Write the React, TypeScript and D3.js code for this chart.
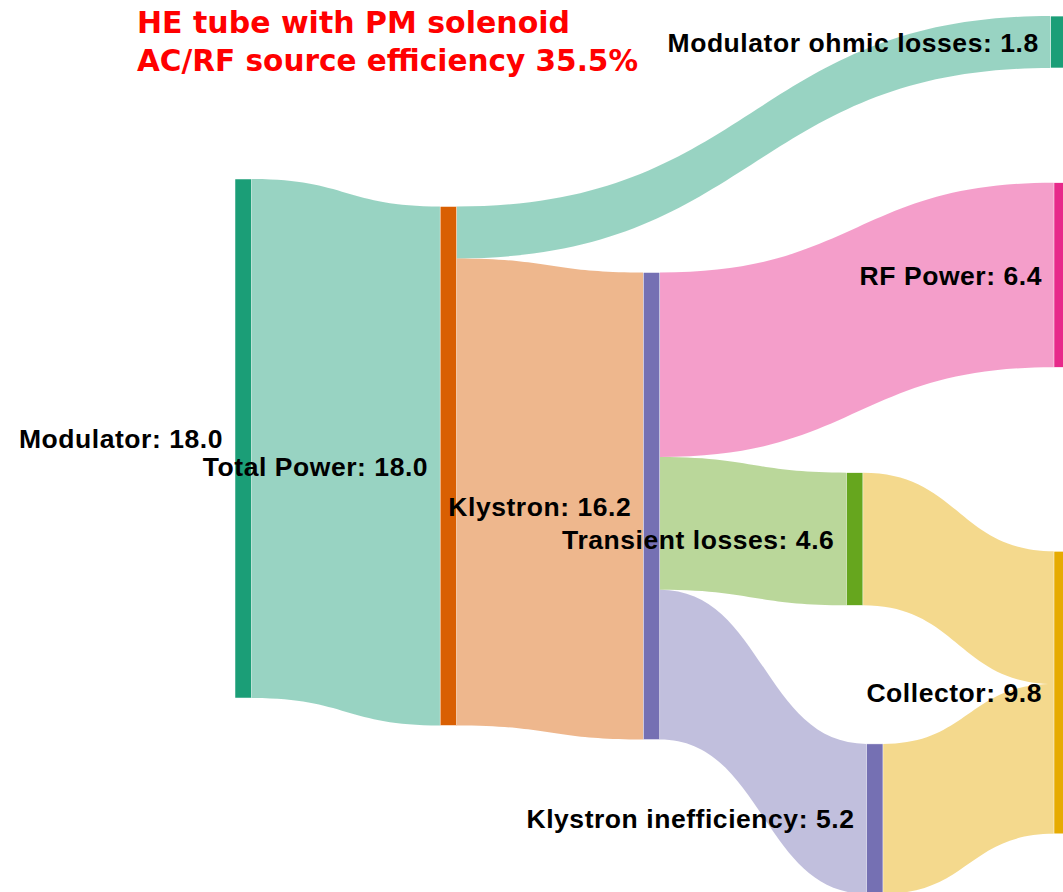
import React from "react";
import * as d3 from "d3";

// ---- Data ----
const nodeNames = [
  "Modulator",
  "Total Power",
  "Modulator ohmic losses",
  "Klystron",
  "RF Power",
  "Transient losses",
  "Klystron inefficiency",
  "Collector",
];
const nodeColors = ["#1b9e77", "#d95f02", "#1b9e77", "#7570b3", "#e7298a", "#66a61e", "#7570b3", "#e6ab02"];

const linkSources = [0, 1, 1, 3, 3, 3, 5, 6];
const linkTargets = [1, 2, 3, 4, 5, 6, 7, 7];
const linkValues = [18.0, 1.8, 16.2, 6.4, 4.6, 5.2, 4.6, 5.2];
const linkColors = ["#1b9e77", "#1b9e77", "#d95f02", "#e7298a", "#66a61e", "#7570b3", "#e6ab02", "#e6ab02"];

// node arrangement (like plotly node.x / node.y, fractions of the plot)
const nodeXFrac = [0, 0.2505, 0.996, 0.4985, 1, 0.7465, 0.771, 1];
const nodeYFrac = [0.4916, 0.5224, 0.0471, 0.5673, 0.3083, 0.6043, 0.918, 0.7764];

const titleLines = ["HE tube with PM solenoid", "AC/RF source efficiency 35.5%"];
const titleWidths = [433, 501];

const W = 1063;
const H = 892;
const NODE_W = 16.5;

export default function App() {
  const xScale = d3.scaleLinear().domain([0, 1]).range([235, 1054]);
  const yScale = d3.scaleLinear().domain([0, 1]).range([0, H]);
  const hScale = d3.scaleLinear().domain([0, 18]).range([0, 519]);

  const nodeValues = nodeNames.map((_, i) => {
    const inSum = d3.sum(linkValues.filter((_, j) => linkTargets[j] === i));
    const outSum = d3.sum(linkValues.filter((_, j) => linkSources[j] === i));
    return Math.max(inSum, outSum);
  });

  const nodes = nodeNames.map((name, i) => {
    const h = hScale(nodeValues[i]);
    const cy = yScale(nodeYFrac[i]);
    return { name, i, x0: xScale(nodeXFrac[i]), y0: cy - h / 2, h, cy };
  });

  const links = linkValues.map((v, j) => ({
    s: linkSources[j],
    t: linkTargets[j],
    v,
    color: linkColors[j],
    w: hScale(v),
    sy: 0,
    ty: 0,
  }));

  nodes.forEach((n) => {
    const outs = links.filter((l) => l.s === n.i).sort((a, b) => nodes[a.t].cy - nodes[b.t].cy);
    let y = n.y0;
    outs.forEach((l) => {
      l.sy = y;
      y += l.w;
    });
    const ins = links.filter((l) => l.t === n.i).sort((a, b) => nodes[a.s].cy - nodes[b.s].cy);
    y = n.y0;
    ins.forEach((l) => {
      l.ty = y;
      y += l.w;
    });
  });

  const linkPath = (l: any) => {
    const x0 = nodes[l.s].x0 + NODE_W;
    const x1 = nodes[l.t].x0;
    const xm = (x0 + x1) / 2;
    const p = d3.path();
    p.moveTo(x0, l.sy);
    p.bezierCurveTo(xm, l.sy, xm, l.ty, x1, l.ty);
    p.lineTo(x1, l.ty + l.w);
    p.bezierCurveTo(xm, l.ty + l.w, xm, l.sy + l.w, x0, l.sy + l.w);
    p.closePath();
    return p.toString();
  };

  return (
    <svg
      width={W}
      height={H}
      style={{ position: "absolute", left: 0, top: 0, display: "block", background: "#fff" }}
    >
      <g>
        {links.map((l, j) => (
          <path key={j} d={linkPath(l)} fill={l.color} fillOpacity={0.45} stroke="none" />
        ))}
      </g>
      <g>
        {nodes.map((n) => (
          <rect
            key={n.i}
            x={n.x0}
            y={n.y0}
            width={NODE_W}
            height={n.h}
            fill={nodeColors[n.i]}
            stroke="#fff"
            strokeWidth={0.5}
          />
        ))}
      </g>
      <g
        fontFamily="'Liberation Sans', Arial, sans-serif"
        fontWeight="bold"
        fontSize={26.5}
        letterSpacing={0.55}
        fill="#000"
      >
        {nodes.map((n) => (
          <text key={n.i} x={n.x0 - 12} y={n.cy} dy="0.36em" textAnchor="end">
            {`${n.name}: ${d3.format(".1f")(nodeValues[n.i])}`}
          </text>
        ))}
      </g>
      <g fontFamily="'DejaVu Sans', sans-serif" fontWeight="bold" fontSize={30} fill="#ff0000">
        {titleLines.map((t, i) => (
          <text key={i} x={137} y={33 + i * 38} textLength={titleWidths[i]} lengthAdjust="spacingAndGlyphs">
            {t}
          </text>
        ))}
      </g>
    </svg>
  );
}
